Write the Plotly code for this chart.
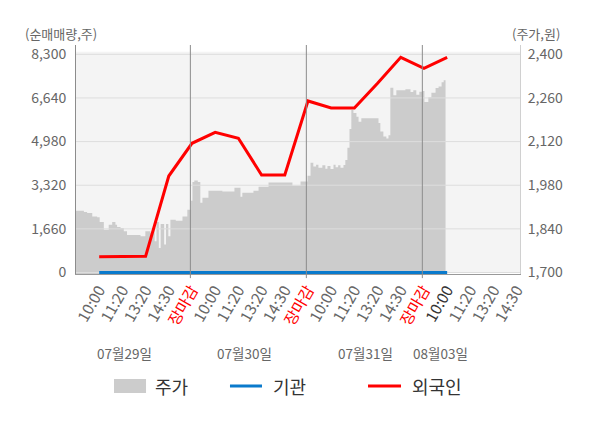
import plotly.graph_objects as go

# ---- data ----
tick_labels = ["10:00", "11:20", "13:20", "14:30", "장마감",
               "10:00", "11:20", "13:20", "14:30", "장마감",
               "10:00", "11:20", "13:20", "14:30", "장마감",
               "10:00", "11:20", "13:20", "14:30"]
tick_pos = list(range(1, 20))

flow_pos = list(range(1, 17))
foreign = [600, 605, 615, 3670, 4915, 5330, 5105, 3710, 3710, 6525, 6260, 6260, 7200, 8185, 7770, 8185]
institution = [0] * 16

price_x = [0, 0.34, 0.48, 0.70, 0.91, 1.02, 1.20, 1.41, 1.56, 1.70, 1.77, 1.92, 2.06, 2.20, 2.78, 2.99,
           3.21, 3.33, 3.39, 3.47, 3.57, 3.65, 3.80, 3.88, 3.98, 4.07, 4.30, 4.59, 4.80, 4.96,
           5.02, 5.10, 5.25, 5.36, 5.45, 5.71, 6.31, 6.83, 7.09, 7.17, 7.65, 7.87, 8.30, 9.33, 9.68, 9.98,
           10.11, 10.23, 10.35, 10.45, 10.62, 10.75, 10.84, 10.97, 11.10, 11.19, 11.30, 11.40, 11.53,
           11.61, 11.70, 11.79, 11.87, 11.96, 12.09, 12.18, 12.30, 13.04, 13.12, 13.25, 13.38, 13.47,
           13.55, 13.68, 13.81, 14.20, 14.42, 14.54, 14.67, 14.80, 14.93,
           15.02, 15.19, 15.32, 15.50, 15.63, 15.76, 15.85, 15.93]
price = [1898, 1894, 1891, 1880, 1877, 1862, 1837, 1853, 1862, 1853, 1846, 1843, 1832, 1820, 1816, 1832,
         1826, 1844, 1800, 1862, 1779, 1856, 1790, 1856, 1816, 1869, 1866, 1880, 1901, 1930,
         1990, 1995, 1990, 1924, 1940, 1962, 1960, 1972, 1943, 1956, 1962, 1975, 1989, 1978, 1992, 2010,
         2052, 2040, 2046, 2036, 2044, 2033, 2042, 2032, 2046, 2038, 2044, 2036, 2045,
         2061, 2100, 2160, 2221, 2212, 2200, 2184, 2195, 2180, 2152, 2136, 2130, 2140,
         2293, 2269, 2285, 2288, 2279, 2285, 2270, 2280, 2282,
         2247, 2262, 2277, 2292, 2297, 2310, 2317, 2317]

day_breaks = [4.93, 9.93, 14.93]
date_labels = ["07월29일", "07월30일", "07월31일", "08월03일"]
date_pos = [2.07, 7.28, 12.5, 15.73]

left_ticks = [0, 1660, 3320, 4980, 6640, 8300]
right_ticks = [1700, 1840, 1980, 2120, 2260, 2400]

X_MAX = 19.14
FONT = "Noto Sans CJK KR, Noto Sans, sans-serif"
GRAY = "#666666"


def fmt(v):
    return f"{v:,}"


def colored(lbl, i):
    if lbl == "장마감":
        return "<span style='color:#ff0000'>장마감</span>"
    if i == 15:
        return "<span style='color:#333333'>" + lbl + "</span>"
    return lbl


fig = go.Figure()

# price area (primary y, right side)
fig.add_trace(go.Scatter(x=price_x, y=price, yaxis="y", mode="lines",
                         line=dict(color="#cccccc", width=0, shape="hv"),
                         fill="tozeroy", fillcolor="#cccccc", name="주가",
                         showlegend=False, hoverinfo="skip"))
# horizontal grid drawn above the price area
gx, gy = [], []
for v in right_ticks:
    gx += [0, X_MAX, None]
    gy += [v, v, None]
fig.add_trace(go.Scatter(x=gx, y=gy, yaxis="y", mode="lines",
                         line=dict(color="#dddddd", width=1), showlegend=False,
                         hoverinfo="skip"))
# flows (overlay y2, left side)
fig.add_trace(go.Scatter(x=flow_pos, y=institution, yaxis="y2", mode="lines",
                         line=dict(color="#0a7acc", width=3), name="기관", showlegend=False))
fig.add_trace(go.Scatter(x=flow_pos, y=foreign, yaxis="y2", mode="lines",
                         line=dict(color="#ff0000", width=3), name="외국인", showlegend=False))

shapes = [dict(type="rect", xref="paper", yref="y2", x0=0, x1=1, y0=0, y1=8400,
               fillcolor="#f4f4f4", line=dict(width=0), layer="below")]
for d in day_breaks:
    shapes.append(dict(type="line", xref="x", yref="paper", x0=d, x1=d, y0=-0.018, y1=1,
                       line=dict(color="#8c8c8c", width=1), layer="above"))

# manual legend
shapes.append(dict(type="rect", xref="paper", yref="paper", x0=0.0856, x1=0.1577,
                   y0=-0.5197, y1=-0.4585, fillcolor="#cccccc", line=dict(width=0)))
shapes.append(dict(type="line", xref="paper", yref="paper", x0=0.3468, x1=0.4189,
                   y0=-0.489, y1=-0.489, line=dict(color="#0a7acc", width=3)))
shapes.append(dict(type="line", xref="paper", yref="paper", x0=0.6577, x1=0.732,
                   y0=-0.489, y1=-0.489, line=dict(color="#ff0000", width=3)))

annotations = []
for t, xp in [("주가", 0.1727), ("기관", 0.4385), ("외국인", 0.7523)]:
    annotations.append(dict(text=t, xref="paper", yref="paper", x=xp, y=-0.489,
                            xanchor="left", yanchor="middle", showarrow=False,
                            font=dict(family=FONT, size=18, color="#333333")))
for t, xp in zip(date_labels, date_pos):
    annotations.append(dict(text=t, xref="x", yref="paper", x=xp, y=-0.345,
                            xanchor="center", yanchor="middle", showarrow=False,
                            font=dict(family=FONT, size=13.5, color=GRAY)))
annotations.append(dict(text="(순매매량,주)", xref="paper", yref="paper", x=-0.0338, y=1.052,
                        xanchor="center", yanchor="middle", showarrow=False,
                        font=dict(family=FONT, size=13, color=GRAY)))
annotations.append(dict(text="(주가,원)", xref="paper", yref="paper", x=1.035, y=1.052,
                        xanchor="center", yanchor="middle", showarrow=False,
                        font=dict(family=FONT, size=13, color=GRAY)))

fig.update_layout(
    width=592, height=420,
    margin=dict(l=68, r=80, t=37, b=154),
    paper_bgcolor="white", plot_bgcolor="white",
    font=dict(family=FONT, color=GRAY),
    showlegend=False,
    xaxis=dict(range=[0, X_MAX], tickmode="array", tickvals=tick_pos,
               ticktext=[colored(l, i) for i, l in enumerate(tick_labels)],
               tickangle=-60, tickfont=dict(size=15.5, color=GRAY),
               showgrid=False, zeroline=False, showline=True, linecolor="#999999",
               ticks="", fixedrange=True),
    yaxis=dict(range=[1695.2, 2429.85], side="right", tickmode="array",
               tickvals=right_ticks, ticktext=[fmt(v) for v in right_ticks],
               tickfont=dict(size=14, color=GRAY), showgrid=False, zeroline=False,
               showline=True, linecolor="#d0d0d0", ticks="", ticklabelstandoff=4),
    yaxis2=dict(range=[-57, 8654], overlaying="y", side="left", tickmode="array",
                tickvals=left_ticks, ticktext=[fmt(v) for v in left_ticks],
                tickfont=dict(size=14, color=GRAY), showgrid=False, zeroline=False,
                showline=True, linecolor="#8c8c8c", ticks="", ticklabelstandoff=6),
    shapes=shapes, annotations=annotations,
)

fig.write_html("out.html")
